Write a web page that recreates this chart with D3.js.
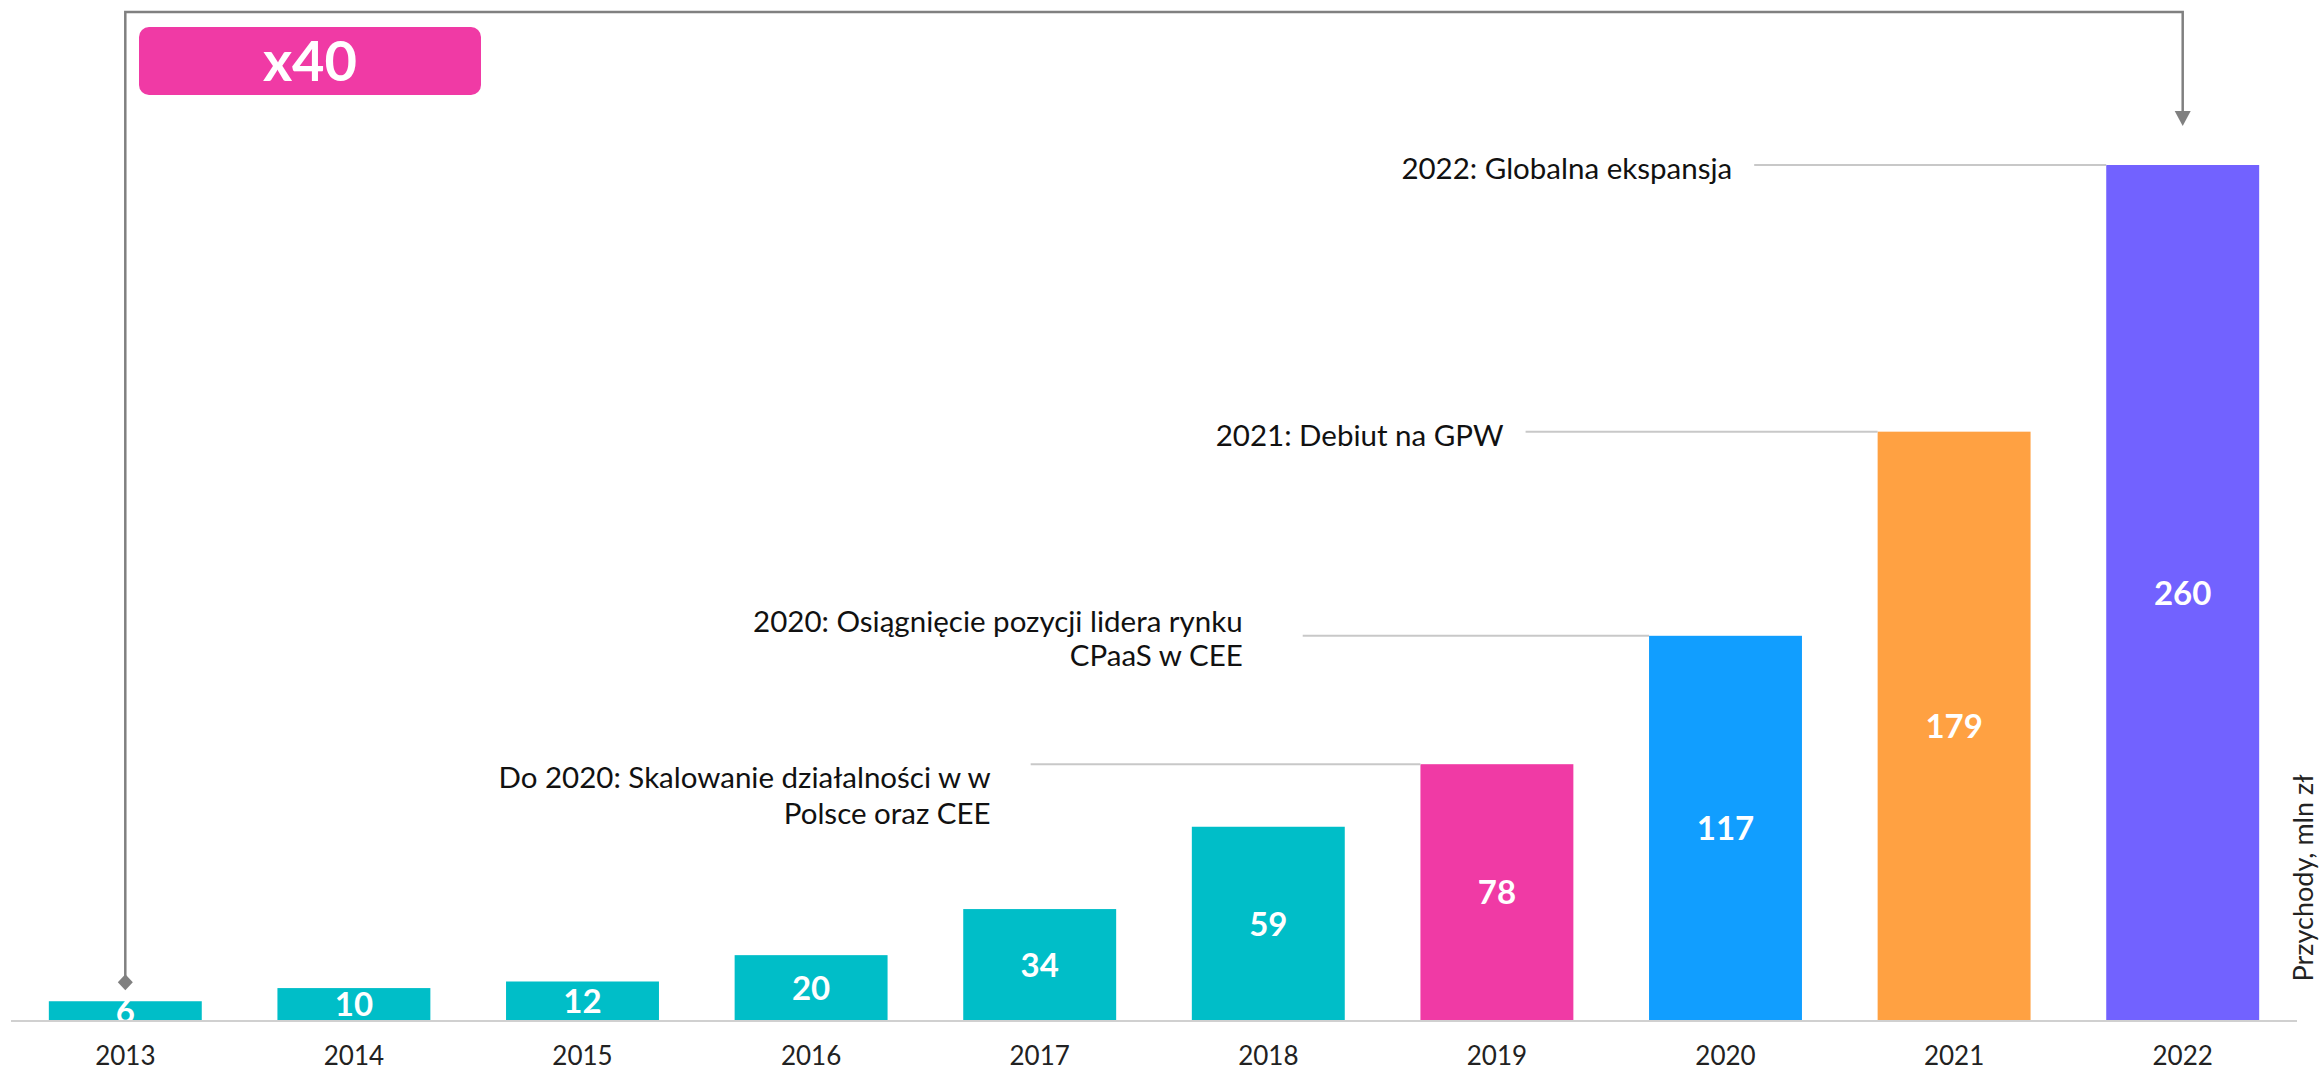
<!DOCTYPE html>
<html>
<head>
<meta charset="utf-8">
<script src="https://cdn.jsdelivr.net/npm/d3@7"></script>
<style>
  html, body { margin: 0; padding: 0; background: #fff; }
  svg { display: block; }
  text { font-family: Lato, "Open Sans", sans-serif; }
</style>
</head>
<body>
<svg id="chart" width="2323" height="1073"></svg>
<script>
// Revenue by year (mln zł)
const years = ['2013', '2014', '2015', '2016', '2017', '2018', '2019', '2020', '2021', '2022'];
const revenue = [6, 10, 12, 20, 34, 59, 78, 117, 179, 260];
const barColors = ['#00BEC8', '#00BEC8', '#00BEC8', '#00BEC8', '#00BEC8', '#00BEC8',
                   '#F03AA5', '#119EFF', '#FFA142', '#7262FF'];

// Milestones attached to bars
const milestoneYears = ['2019', '2020', '2021', '2022'];
const milestoneText = [
  ['Do 2020: Skalowanie działalności w w', 'Polsce oraz CEE'],
  ['2020: Osiągnięcie pozycji lidera rynku', 'CPaaS w CEE'],
  ['2021: Debiut na GPW'],
  ['2022: Globalna ekspansja']
];

const growthLabel = 'x40';
const axisTitle = 'Przychody, mln zł';

const svg = d3.select('#chart');
const baseY = 1021, topY = 165;

const x = d3.scaleBand()
  .domain(years)
  .range([11, 2297])
  .paddingInner(0.331)
  .paddingOuter(0.1655);

const y = d3.scaleLinear()
  .domain([0, d3.max(revenue)])
  .range([baseY, topY]);

const data = years.map((yr, i) => ({ year: yr, value: revenue[i], color: barColors[i] }));

// Bars
svg.append('g').selectAll('rect')
  .data(data)
  .join('rect')
  .attr('x', d => x(d.year))
  .attr('y', d => y(d.value))
  .attr('width', x.bandwidth())
  .attr('height', d => y(0) - y(d.value))
  .attr('fill', d => d.color);

// Value labels centred inside bars
svg.append('g').selectAll('text')
  .data(data)
  .join('text')
  .attr('x', d => x(d.year) + x.bandwidth() / 2)
  .attr('y', d => (y(d.value) + y(0)) / 2)
  .attr('dy', '0.36em')
  .attr('text-anchor', 'middle')
  .attr('fill', '#fff')
  .attr('font-weight', 700)
  .attr('font-size', 33)
  .text(d => d.value);

// X axis
const xAxis = svg.append('g')
  .attr('transform', `translate(0,${baseY})`)
  .call(d3.axisBottom(x).tickSize(0).tickPadding(26));
xAxis.select('.domain')
  .attr('d', `M${x.range()[0]},0H${x.range()[1]}`)
  .attr('stroke', '#d0d0d0')
  .attr('stroke-width', 2);
xAxis.selectAll('.tick text')
  .attr('font-size', 26)
  .attr('fill', '#222')
  .style('font-family', 'Lato, "Open Sans", sans-serif');

// Axis title on the right, rotated
svg.append('text')
  .attr('transform', `translate(2304,${878}) rotate(-90)`)
  .attr('text-anchor', 'middle')
  .attr('dy', '0.35em')
  .attr('font-size', 27)
  .attr('fill', '#222')
  .text(axisTitle);

// Milestone callouts: leader line from the bar top back to the text
const calloutLayout = {
  '2019': { reach: 1.705, gap: 40, shifts: [13, 49] },
  '2020': { reach: 1.515, gap: 60, shifts: [-14, 20] },
  '2021': { reach: 1.54, gap: 22, shifts: [4] },
  '2022': { reach: 1.54, gap: 22, shifts: [4] }
};
const callouts = svg.append('g');
milestoneYears.forEach((yr, i) => {
  const v = revenue[years.indexOf(yr)];
  const lay = calloutLayout[yr];
  const yy = y(v);
  const x1 = x(yr);
  const x0 = x1 - lay.reach * x.step();
  callouts.append('line')
    .attr('x1', x0).attr('x2', x1)
    .attr('y1', yy).attr('y2', yy)
    .attr('stroke', '#c8c8c8')
    .attr('stroke-width', 2);
  milestoneText[i].forEach((line, j) => {
    callouts.append('text')
      .attr('x', x0 - lay.gap)
      .attr('y', yy + lay.shifts[j])
      .attr('dy', '0.35em')
      .attr('text-anchor', 'end')
      .attr('font-size', 29.5)
      .attr('fill', '#111')
      .text(line);
  });
});

// Growth bracket from the first bar to the last
const cFirst = x(years[0]) + x.bandwidth() / 2;
const cLast = x(years[years.length - 1]) + x.bandwidth() / 2;
const bracketTop = 12;
const startY = y(revenue[0]) - 19;
const tipY = 126;
const bracket = svg.append('g');
bracket.append('path')
  .attr('d', `M${cFirst},${startY}V${bracketTop}H${cLast}V${tipY - 12}`)
  .attr('fill', 'none')
  .attr('stroke', '#808080')
  .attr('stroke-width', 2.5);
bracket.append('path')
  .attr('d', `M${cLast - 8},${tipY - 15}L${cLast + 8},${tipY - 15}L${cLast},${tipY}Z`)
  .attr('fill', '#808080');
bracket.append('path')
  .attr('d', `M${cFirst},${startY - 8}L${cFirst + 7.5},${startY}L${cFirst},${startY + 8}L${cFirst - 7.5},${startY}Z`)
  .attr('fill', '#808080');

// Growth badge
const badge = svg.append('g');
badge.append('rect')
  .attr('x', 139).attr('y', 27)
  .attr('width', 342).attr('height', 68)
  .attr('rx', 10)
  .attr('fill', '#F03AA5');
badge.append('text')
  .attr('x', 310).attr('y', 61)
  .attr('dy', '0.36em')
  .attr('text-anchor', 'middle')
  .attr('fill', '#fff')
  .attr('font-weight', 700)
  .attr('font-size', 56)
  .text(growthLabel);
</script>
</body>
</html>
